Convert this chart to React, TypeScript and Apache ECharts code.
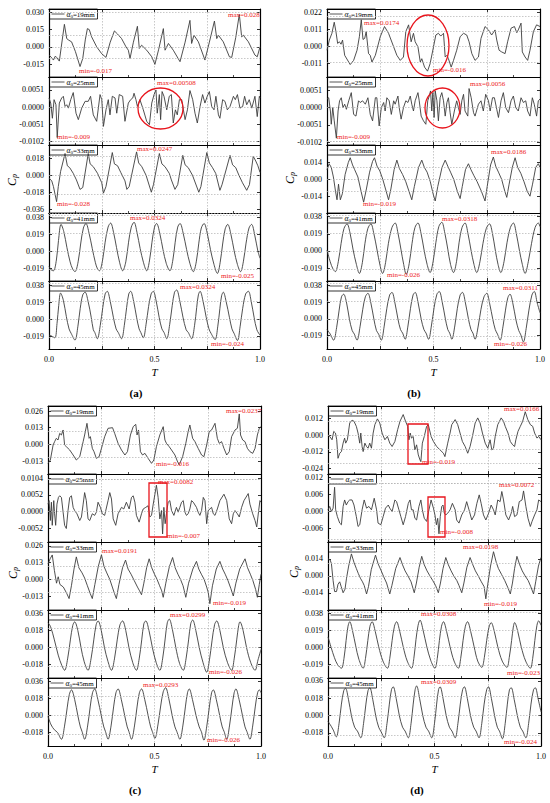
import { useEffect, useRef } from "react";
import * as echarts from "echarts";

type P = [number, number][];

// ---------- panel (a) ----------
const a19: P = [[0,-0.0071],[0.011,-0.009],[0.021,-0.0114],[0.03,-0.008],[0.036,-0.0091],[0.049,-0.0123],[0.062,0.005],[0.073,0.0194],[0.084,0.0071],[0.094,0.0057],[0.107,0.0043],[0.125,-0.004],[0.147,-0.017],[0.16,-0.01],[0.172,0.006],[0.182,0.0157],[0.191,0.0148],[0.202,0.0086],[0.226,0.0],[0.25,-0.006],[0.27,-0.0091],[0.29,0.004],[0.31,0.0137],[0.325,0.011],[0.344,0.0071],[0.365,0.0],[0.376,-0.0029],[0.384,-0.01],[0.4,0.004],[0.419,0.0177],[0.428,-0.0014],[0.439,0.0014],[0.463,-0.0029],[0.487,-0.0086],[0.502,-0.0151],[0.52,-0.002],[0.542,0.0157],[0.55,-0.0029],[0.566,0.0029],[0.589,-0.0029],[0.621,-0.0128],[0.645,0.004],[0.668,0.0228],[0.676,0.0029],[0.687,0.01],[0.708,0.0043],[0.739,-0.0114],[0.76,0.004],[0.784,0.0222],[0.795,0.0071],[0.803,0.01],[0.826,0.0043],[0.855,-0.0086],[0.866,-0.0091],[0.885,0.008],[0.902,0.028],[0.913,0.0086],[0.921,0.01],[0.945,0.0043],[0.976,-0.0071],[0.987,-0.0086],[1.0,0]];
const a25: P = [[0,0.0027],[0.008,0.0012],[0.016,-0.0033],[0.024,0.0022],[0.033,0.0007],[0.039,-0.009],[0.049,0.0012],[0.06,0.0027],[0.068,0.0032],[0.076,0.0002],[0.084,0.0007],[0.092,-0.0003],[0.103,0.0022],[0.115,0.0043],[0.128,-0.0018],[0.139,-0.0037],[0.155,-0.0003],[0.171,0.0017],[0.186,0.0017],[0.197,0.0032],[0.21,-0.0023],[0.226,-0.0042],[0.242,0.0037],[0.25,0.0022],[0.258,-0.0057],[0.27,-0.0008],[0.281,0.0022],[0.289,-0.0023],[0.3,0.0032],[0.313,0.0027],[0.321,-0.0018],[0.333,0.0037],[0.349,0.0032],[0.36,-0.0042],[0.376,0.0012],[0.387,0.0022],[0.397,0.0027],[0.403,0.0041],[0.412,0.0022],[0.419,0.0002],[0.431,0.0022],[0.447,-0.0008],[0.463,-0.0042],[0.476,-0.0052],[0.487,0.0012],[0.498,0.0037],[0.507,0.00508],[0.513,-0.0018],[0.523,0.0037],[0.529,-0.0037],[0.536,0.0046],[0.545,0.0032],[0.558,-0.0008],[0.57,0.0032],[0.58,0.0037],[0.589,-0.0047],[0.599,-0.0008],[0.608,-0.0023],[0.618,0.0022],[0.629,0.0022],[0.637,-0.0008],[0.645,-0.0037],[0.656,-0.0008],[0.668,0.0049],[0.681,0.0022],[0.692,-0.0018],[0.703,-0.0047],[0.716,0.0002],[0.728,0.0037],[0.739,0.0012],[0.75,0.0032],[0.76,0.0046],[0.771,0.0002],[0.782,-0.0008],[0.791,0.0032],[0.803,-0.0023],[0.81,-0.0033],[0.823,0.0022],[0.834,0.0017],[0.845,-0.0008],[0.858,0.0002],[0.874,0.0032],[0.883,0.0022],[0.893,0.0037],[0.905,-0.0003],[0.918,0.0002],[0.927,0.0032],[0.937,0.0007],[0.949,0.0022],[0.961,-0.0003],[0.976,0.0032],[0.987,-0.0028],[0.997,0.0032],[1.0,0.0027]];
const a33: P = [[0,-0.003],[0.013,-0.006],[0.021,-0.012],[0.036,-0.028],[0.044,-0.012],[0.055,0.004],[0.076,0.023],[0.087,0.01],[0.098,0.008],[0.115,0.002],[0.13,-0.005],[0.147,-0.015],[0.16,-0.013],[0.186,0.023],[0.195,0.012],[0.21,0.009],[0.23,0.002],[0.25,-0.008],[0.258,-0.019],[0.27,-0.012],[0.3,0.024],[0.31,0.012],[0.325,0.01],[0.34,0.003],[0.36,-0.006],[0.369,-0.015],[0.38,-0.012],[0.415,0.0247],[0.425,0.013],[0.44,0.009],[0.46,0.0],[0.485,-0.018],[0.495,-0.01],[0.523,0.023],[0.535,0.012],[0.55,0.009],[0.57,0.002],[0.58,-0.005],[0.597,-0.015],[0.61,-0.01],[0.634,0.021],[0.645,0.011],[0.66,0.008],[0.68,0.0],[0.71,-0.018],[0.72,-0.012],[0.748,0.024],[0.76,0.013],[0.775,0.008],[0.79,0.002],[0.81,-0.016],[0.82,-0.01],[0.858,0.021],[0.87,0.011],[0.885,0.008],[0.9,0.0],[0.917,-0.008],[0.937,-0.016],[0.95,-0.01],[0.968,0.02],[0.98,0.015],[0.99,0.01],[1.0,0.003]];
const a41: P = [[0,-0.017],[0.01,-0.021],[0.021,-0.022],[0.035,-0.01],[0.045,0.012],[0.057,0.03],[0.07,0.022],[0.085,0.004],[0.1,-0.012],[0.112,-0.02],[0.123,-0.023],[0.138,-0.012],[0.15,0.008],[0.163,0.026],[0.175,0.031],[0.19,0.02],[0.205,0.003],[0.22,-0.013],[0.23,-0.02],[0.239,-0.022],[0.254,-0.01],[0.266,0.01],[0.28,0.027],[0.292,0.0315],[0.306,0.021],[0.32,0.004],[0.335,-0.013],[0.349,-0.022],[0.364,-0.012],[0.377,0.01],[0.39,0.027],[0.403,0.0324],[0.417,0.021],[0.432,0.003],[0.448,-0.013],[0.463,-0.022],[0.476,-0.011],[0.488,0.01],[0.5,0.027],[0.51,0.031],[0.525,0.02],[0.54,0.002],[0.556,-0.014],[0.573,-0.022],[0.587,-0.01],[0.598,0.01],[0.61,0.027],[0.621,0.031],[0.636,0.02],[0.652,0.002],[0.668,-0.014],[0.684,-0.023],[0.698,-0.012],[0.71,0.009],[0.722,0.026],[0.735,0.031],[0.75,0.02],[0.765,0.002],[0.782,-0.015],[0.798,-0.025],[0.811,-0.013],[0.823,0.008],[0.835,0.025],[0.847,0.03],[0.862,0.019],[0.877,0.001],[0.893,-0.015],[0.908,-0.023],[0.921,-0.012],[0.934,0.009],[0.948,0.026],[0.96,0.03],[0.975,0.018],[0.99,0.0],[1.0,-0.008]];
const a45: P = [[0,-0.018],[0.012,-0.019],[0.028,-0.021],[0.038,-0.005],[0.046,0.015],[0.055,0.029],[0.068,0.021],[0.082,0.003],[0.095,-0.011],[0.105,-0.016],[0.123,-0.0235],[0.137,-0.008],[0.148,0.012],[0.16,0.027],[0.171,0.03],[0.185,0.02],[0.2,0.002],[0.21,-0.012],[0.217,-0.015],[0.229,-0.022],[0.243,-0.007],[0.255,0.013],[0.266,0.028],[0.276,0.031],[0.29,0.02],[0.305,0.002],[0.318,-0.011],[0.328,-0.015],[0.344,-0.022],[0.357,-0.007],[0.368,0.013],[0.378,0.028],[0.387,0.031],[0.401,0.02],[0.415,0.002],[0.427,-0.011],[0.435,-0.015],[0.447,-0.021],[0.46,-0.006],[0.472,0.014],[0.484,0.028],[0.494,0.031],[0.508,0.02],[0.522,0.002],[0.535,-0.011],[0.545,-0.015],[0.558,-0.022],[0.572,-0.006],[0.584,0.015],[0.595,0.03],[0.605,0.0324],[0.62,0.02],[0.635,0.002],[0.65,-0.012],[0.66,-0.015],[0.676,-0.022],[0.69,-0.007],[0.7,0.013],[0.708,0.027],[0.716,0.031],[0.73,0.02],[0.745,0.002],[0.758,-0.011],[0.768,-0.016],[0.787,-0.023],[0.8,-0.008],[0.81,0.012],[0.818,0.026],[0.826,0.03],[0.84,0.019],[0.855,0.002],[0.867,-0.011],[0.877,-0.016],[0.893,-0.024],[0.906,-0.008],[0.918,0.012],[0.932,0.028],[0.945,0.031],[0.958,0.02],[0.972,0.002],[0.985,-0.012],[1.0,-0.018]];

// ---------- panel (b) ----------
const b19: P = [[0,-0.0024],[0.011,0.0042],[0.023,0.0086],[0.034,0.0158],[0.042,0.0097],[0.05,0.002],[0.058,0.0031],[0.066,0.0015],[0.073,0.0042],[0.083,-0.0057],[0.102,-0.0101],[0.109,-0.0117],[0.125,-0.009],[0.141,-0.0024],[0.152,0.0064],[0.161,0.0174],[0.169,0.0046],[0.177,0.0053],[0.184,0.0097],[0.195,-0.0046],[0.203,-0.0057],[0.211,-0.0101],[0.227,-0.0057],[0.25,0.0064],[0.27,0.013],[0.289,0.0086],[0.313,-0.0002],[0.328,-0.0057],[0.344,-0.009],[0.359,-0.0068],[0.37,0.0097],[0.383,0.0141],[0.395,0.0031],[0.406,0.0086],[0.414,0.0031],[0.427,-0.0002],[0.438,-0.0101],[0.445,-0.0079],[0.458,-0.0134],[0.472,-0.016],[0.484,-0.0112],[0.5,-0.0002],[0.511,0.0075],[0.523,0.0086],[0.534,0.0068],[0.547,0.0086],[0.555,-0.0068],[0.563,-0.0057],[0.57,-0.0079],[0.583,-0.0134],[0.594,-0.009],[0.609,-0.0024],[0.625,0.0064],[0.641,0.0086],[0.656,0.0075],[0.667,0.0031],[0.68,-0.0046],[0.695,-0.009],[0.711,-0.0068],[0.723,0.0053],[0.742,0.013],[0.758,0.0108],[0.773,0.0075],[0.789,0.0108],[0.797,0.0042],[0.808,-0.0024],[0.82,-0.0035],[0.836,-0.0046],[0.848,0.0031],[0.864,0.0119],[0.88,0.013],[0.891,0.009],[0.898,0.0108],[0.911,0.0152],[0.917,-0.0035],[0.93,-0.0068],[0.942,-0.009],[0.953,-0.0024],[0.969,0.0097],[0.984,0.0141],[1.0,0.013]];
const b25: P = [[0,0.0025],[0.008,0.0029],[0.016,-0.001],[0.02,-0.0049],[0.027,0],[0.034,-0.0039],[0.044,-0.009],[0.052,-0.001],[0.059,0.002],[0.067,0.0029],[0.075,0],[0.083,0.001],[0.091,-0.0005],[0.102,0.002],[0.114,0.0044],[0.125,-0.002],[0.136,-0.0025],[0.148,0.002],[0.156,0.0015],[0.167,0.002],[0.18,0.001],[0.192,0.0029],[0.203,-0.002],[0.214,-0.0039],[0.227,0.0029],[0.234,0.0029],[0.245,-0.0054],[0.255,0],[0.266,0.0015],[0.273,-0.001],[0.281,0.0029],[0.292,0.002],[0.302,-0.002],[0.313,0.002],[0.32,0.001],[0.333,0.0034],[0.339,0],[0.348,-0.0034],[0.359,0],[0.37,0.002],[0.38,0.0015],[0.391,0.0034],[0.398,0.001],[0.406,-0.001],[0.414,0.002],[0.427,0.0044],[0.433,0.002],[0.442,-0.0025],[0.453,-0.0039],[0.464,-0.0049],[0.473,0.002],[0.48,0.0034],[0.486,0.0049],[0.492,-0.001],[0.497,0.0044],[0.503,-0.0029],[0.508,0.0049],[0.516,0.002],[0.523,-0.0039],[0.531,0.0029],[0.539,0.0044],[0.547,0.002],[0.555,-0.0025],[0.563,0.0015],[0.57,0.0029],[0.578,-0.0015],[0.586,-0.0049],[0.598,-0.001],[0.609,0.002],[0.617,0],[0.625,-0.002],[0.633,0.002],[0.641,0.0039],[0.648,-0.001],[0.661,-0.0025],[0.667,0.0056],[0.677,0.0029],[0.688,-0.0015],[0.695,-0.0025],[0.711,0.001],[0.723,0.002],[0.734,-0.001],[0.745,0.0039],[0.758,0.002],[0.766,-0.001],[0.777,0.0029],[0.786,0.0029],[0.797,-0.0005],[0.805,-0.0029],[0.817,0.002],[0.828,0.0044],[0.839,0],[0.852,-0.0015],[0.864,0.002],[0.875,0.0034],[0.886,0],[0.898,-0.001],[0.911,0.0029],[0.922,0.0015],[0.933,0.002],[0.942,-0.001],[0.953,-0.0025],[0.964,0.0029],[0.973,0.001],[0.984,-0.0025],[0.992,0.002],[1.0,0.0025]];
const b33: P = [[0,0.008],[0.01,0.013],[0.02,0.01],[0.03,0.002],[0.04,-0.01],[0.047,-0.017],[0.054,-0.004],[0.0625,-0.017],[0.072,-0.012],[0.085,0.004],[0.1,0.014],[0.109,0.018],[0.12,0.012],[0.13,0.008],[0.145,0.002],[0.16,-0.01],[0.172,-0.019],[0.185,-0.008],[0.2,0.006],[0.214,0.015],[0.223,0.018],[0.235,0.011],[0.248,0.007],[0.262,0.0],[0.278,-0.01],[0.289,-0.017],[0.3,-0.008],[0.315,0.008],[0.328,0.016],[0.34,0.009],[0.355,0.004],[0.37,-0.002],[0.385,-0.01],[0.398,-0.017],[0.41,-0.006],[0.43,0.01],[0.445,0.016],[0.457,0.01],[0.47,0.006],[0.485,-0.002],[0.498,-0.012],[0.508,-0.018],[0.52,-0.006],[0.54,0.01],[0.555,0.016],[0.567,0.011],[0.58,0.006],[0.595,0.0],[0.612,-0.01],[0.625,-0.016],[0.635,-0.006],[0.65,0.008],[0.664,0.013],[0.676,0.008],[0.69,0.003],[0.705,-0.002],[0.725,-0.01],[0.742,-0.018],[0.752,-0.006],[0.768,0.012],[0.781,0.0186],[0.792,0.011],[0.805,0.006],[0.82,0.0],[0.835,-0.01],[0.844,-0.015],[0.855,-0.004],[0.87,0.01],[0.883,0.018],[0.895,0.01],[0.91,0.005],[0.925,-0.002],[0.94,-0.01],[0.953,-0.014],[0.965,-0.004],[0.98,0.01],[0.992,0.013],[1.0,0.01]];
const b41: P = [[0,0.001],[0.015,-0.012],[0.028,-0.02],[0.039,-0.023],[0.053,-0.012],[0.066,0.008],[0.08,0.025],[0.094,0.03],[0.108,0.02],[0.122,0.002],[0.138,-0.015],[0.152,-0.025],[0.166,-0.013],[0.178,0.008],[0.192,0.025],[0.206,0.03],[0.22,0.019],[0.235,0.001],[0.249,-0.016],[0.261,-0.025],[0.275,-0.013],[0.288,0.008],[0.305,0.026],[0.32,0.031],[0.333,0.02],[0.347,0.002],[0.36,-0.015],[0.372,-0.026],[0.386,-0.014],[0.399,0.008],[0.413,0.026],[0.427,0.031],[0.441,0.02],[0.455,0.002],[0.47,-0.015],[0.484,-0.024],[0.498,-0.012],[0.511,0.009],[0.525,0.027],[0.539,0.0318],[0.553,0.02],[0.567,0.002],[0.58,-0.015],[0.594,-0.024],[0.608,-0.012],[0.62,0.009],[0.634,0.026],[0.648,0.031],[0.662,0.019],[0.676,0.001],[0.69,-0.015],[0.703,-0.024],[0.718,-0.012],[0.732,0.008],[0.748,0.025],[0.763,0.03],[0.777,0.019],[0.79,0.001],[0.803,-0.015],[0.816,-0.024],[0.831,-0.012],[0.845,0.009],[0.861,0.026],[0.875,0.031],[0.889,0.019],[0.903,0.001],[0.917,-0.015],[0.93,-0.025],[0.945,-0.012],[0.96,0.008],[0.977,0.026],[0.992,0.031],[1.0,0.027]];
const b45: P = [[0,-0.012],[0.015,-0.017],[0.031,-0.024],[0.045,-0.01],[0.057,0.01],[0.068,0.025],[0.078,0.028],[0.092,0.018],[0.105,0.0],[0.118,-0.013],[0.128,-0.017],[0.141,-0.024],[0.155,-0.009],[0.168,0.011],[0.18,0.025],[0.192,0.029],[0.206,0.018],[0.22,0.0],[0.232,-0.013],[0.242,-0.017],[0.255,-0.024],[0.268,-0.009],[0.281,0.012],[0.294,0.027],[0.305,0.03],[0.319,0.018],[0.333,0.0],[0.345,-0.012],[0.355,-0.016],[0.367,-0.023],[0.38,-0.008],[0.392,0.012],[0.404,0.027],[0.414,0.03],[0.428,0.018],[0.442,0.0],[0.455,-0.012],[0.465,-0.016],[0.477,-0.023],[0.49,-0.008],[0.503,0.013],[0.516,0.028],[0.527,0.031],[0.541,0.019],[0.555,0.001],[0.567,-0.012],[0.576,-0.016],[0.586,-0.023],[0.6,-0.008],[0.612,0.012],[0.625,0.027],[0.636,0.03],[0.65,0.018],[0.664,0.0],[0.676,-0.012],[0.685,-0.016],[0.695,-0.023],[0.71,-0.008],[0.723,0.011],[0.737,0.025],[0.75,0.029],[0.764,0.017],[0.778,0.0],[0.79,-0.012],[0.8,-0.017],[0.813,-0.024],[0.826,-0.009],[0.838,0.01],[0.849,0.024],[0.859,0.028],[0.873,0.017],[0.887,-0.001],[0.9,-0.013],[0.91,-0.018],[0.922,-0.026],[0.935,-0.011],[0.948,0.01],[0.962,0.027],[0.973,0.0311],[0.987,0.018],[1.0,0.007]];

// ---------- panel (c) ----------
const c19: P = [[0,-0.0148],[0.011,-0.0122],[0.024,-0.0005],[0.031,0.0021],[0.039,0.0047],[0.047,0.0034],[0.055,0.0086],[0.063,0.0073],[0.071,0.0112],[0.078,-0.0005],[0.086,-0.0018],[0.102,-0.0044],[0.118,-0.0083],[0.133,-0.0122],[0.149,-0.0096],[0.165,0.0021],[0.172,0.0073],[0.183,0.0164],[0.193,0.0047],[0.199,0.006],[0.208,-0.0031],[0.216,-0.0057],[0.227,-0.0109],[0.24,-0.0096],[0.251,-0.0031],[0.266,0.006],[0.282,0.0125],[0.303,0.013],[0.313,0.0086],[0.329,0.0008],[0.345,-0.0044],[0.361,-0.0083],[0.373,-0.0057],[0.387,0.0073],[0.4,0.0138],[0.412,0.0156],[0.418,0.0073],[0.425,0.0112],[0.434,-0.0057],[0.444,-0.0083],[0.455,-0.007],[0.47,-0.0109],[0.486,-0.0148],[0.497,-0.0122],[0.509,-0.0018],[0.525,0.0073],[0.541,0.0138],[0.549,0.0034],[0.556,0.0008],[0.569,-0.0018],[0.58,-0.0044],[0.596,-0.0083],[0.607,-0.013],[0.616,-0.016],[0.632,-0.0096],[0.647,0.0008],[0.658,0.0099],[0.666,0.0151],[0.679,0.0047],[0.69,0.0021],[0.705,-0.0031],[0.721,-0.0083],[0.732,-0.0096],[0.745,-0.0005],[0.757,0.0099],[0.768,0.0112],[0.784,0.0164],[0.795,0.0047],[0.804,0.0008],[0.815,0.0021],[0.826,-0.0031],[0.839,-0.0083],[0.851,-0.0057],[0.862,0.006],[0.878,0.0112],[0.889,0.0125],[0.898,0.0237],[0.904,0.0073],[0.914,0.0034],[0.925,0.0021],[0.936,-0.0031],[0.948,-0.0057],[0.961,-0.007],[0.972,-0.0031],[0.983,0.0073],[0.992,0.0125],[1.0,0.0138]];
const c25: P = [[0,0.0023],[0.005,0.0034],[0.011,-0.0028],[0.016,0.0029],[0.02,-0.0043],[0.027,0.0034],[0.031,-0.0007],[0.036,-0.0043],[0.042,0.0023],[0.049,0.0044],[0.055,0.0049],[0.063,0.0044],[0.071,-0.0002],[0.078,-0.0043],[0.086,-0.0053],[0.094,0.0003],[0.102,0.0044],[0.11,0.0049],[0.118,0.0013],[0.125,0.0003],[0.136,-0.0007],[0.149,-0.0028],[0.157,-0.0017],[0.165,0.0023],[0.172,0.0059],[0.18,0.0034],[0.188,-0.0023],[0.196,-0.0028],[0.208,-0.0007],[0.219,-0.0012],[0.227,-0.0002],[0.235,0.0029],[0.246,0.0013],[0.255,-0.0007],[0.266,-0.0012],[0.282,0.0034],[0.29,0.0059],[0.298,0.0039],[0.306,-0.0023],[0.318,-0.0043],[0.329,-0.0007],[0.337,0.0003],[0.345,0.0013],[0.356,0.0008],[0.368,0.0029],[0.381,0.0008],[0.392,0.0044],[0.4,0.0049],[0.408,0.0029],[0.415,-0.0012],[0.428,-0.0033],[0.439,-0.0007],[0.447,0.0008],[0.459,0.0013],[0.47,0.0018],[0.478,-0.0017],[0.486,-0.0012],[0.494,0.0023],[0.502,0.0054],[0.509,0.0082],[0.517,0.0044],[0.525,-0.0023],[0.533,0.0003],[0.538,-0.007],[0.544,0.0013],[0.55,-0.0038],[0.556,-0.0007],[0.564,0.0029],[0.572,0.0034],[0.58,0.0003],[0.591,-0.0012],[0.603,0.0013],[0.611,-0.0002],[0.619,0.0013],[0.627,0.0029],[0.635,0.0034],[0.643,-0.0002],[0.65,-0.0012],[0.658,-0.0007],[0.666,0.0008],[0.674,0.0034],[0.682,0.0029],[0.697,0.0013],[0.705,-0.0002],[0.713,-0.0012],[0.721,0.0003],[0.729,0.0044],[0.737,0.0034],[0.745,-0.0038],[0.752,0.0003],[0.768,0.0013],[0.776,-0.0007],[0.784,-0.0012],[0.795,0.0008],[0.807,0.0034],[0.826,0.0054],[0.839,0.0034],[0.851,-0.0023],[0.862,-0.0038],[0.87,-0.0007],[0.878,0.0003],[0.889,-0.0007],[0.898,-0.0017],[0.909,0.0013],[0.92,0.0034],[0.94,0.0056],[0.948,0.0023],[0.961,-0.0007],[0.972,-0.0028],[0.98,-0.0048],[0.989,0.0003],[0.995,0.0034],[1.0,0.0029]];
const c33: P = [[0,0.012],[0.01,0.016],[0.02,0.019],[0.03,0.007],[0.04,-0.003],[0.048,0.002],[0.056,-0.004],[0.072,-0.006],[0.088,-0.011],[0.099,-0.015],[0.11,-0.005],[0.122,0.008],[0.133,0.0175],[0.145,0.009],[0.16,0.005],[0.172,0.001],[0.185,-0.005],[0.198,-0.011],[0.208,-0.015],[0.22,-0.004],[0.236,0.01],[0.251,0.0191],[0.263,0.01],[0.276,0.005],[0.29,0.0],[0.302,-0.006],[0.312,-0.011],[0.321,-0.015],[0.333,-0.004],[0.35,0.009],[0.364,0.015],[0.376,0.008],[0.39,0.004],[0.405,-0.001],[0.42,-0.006],[0.43,-0.009],[0.439,-0.012],[0.45,-0.003],[0.463,0.009],[0.475,0.016],[0.487,0.009],[0.5,0.004],[0.512,0.0],[0.524,-0.005],[0.534,-0.009],[0.541,-0.014],[0.553,-0.003],[0.57,0.01],[0.585,0.017],[0.597,0.009],[0.61,0.004],[0.622,0.0],[0.634,-0.005],[0.64,-0.009],[0.647,-0.014],[0.66,-0.003],[0.68,0.008],[0.697,0.014],[0.708,0.008],[0.72,0.004],[0.733,0.0],[0.745,-0.006],[0.752,-0.01],[0.76,-0.019],[0.772,-0.005],[0.79,0.008],[0.807,0.014],[0.82,0.008],[0.832,0.004],[0.845,-0.001],[0.858,-0.007],[0.87,-0.013],[0.882,-0.003],[0.9,0.008],[0.925,0.016],[0.937,0.009],[0.95,0.004],[0.962,-0.001],[0.975,-0.008],[0.983,-0.014],[0.992,-0.004],[1.0,0.004]];
const c41: P = [[0,0.026],[0.012,0.022],[0.03,0.008],[0.048,-0.008],[0.065,-0.019],[0.078,-0.024],[0.092,-0.012],[0.105,0.008],[0.116,0.023],[0.125,0.027],[0.14,0.018],[0.155,0.0],[0.17,-0.015],[0.188,-0.024],[0.202,-0.012],[0.215,0.008],[0.226,0.024],[0.235,0.028],[0.25,0.018],[0.265,0.0],[0.282,-0.015],[0.298,-0.024],[0.312,-0.012],[0.325,0.008],[0.338,0.024],[0.35,0.028],[0.365,0.018],[0.38,0.0],[0.398,-0.016],[0.415,-0.024],[0.428,-0.012],[0.44,0.008],[0.45,0.025],[0.459,0.028],[0.474,0.018],[0.49,0.0],[0.508,-0.016],[0.525,-0.024],[0.538,-0.012],[0.55,0.009],[0.56,0.026],[0.569,0.0299],[0.584,0.019],[0.6,0.0],[0.618,-0.017],[0.635,-0.024],[0.648,-0.012],[0.66,0.008],[0.67,0.025],[0.679,0.029],[0.694,0.018],[0.71,0.0],[0.728,-0.016],[0.745,-0.026],[0.758,-0.013],[0.77,0.007],[0.782,0.024],[0.792,0.028],[0.807,0.018],[0.823,0.0],[0.843,-0.016],[0.862,-0.024],[0.874,-0.012],[0.886,0.008],[0.895,0.023],[0.901,0.027],[0.916,0.018],[0.932,0.0],[0.952,-0.016],[0.972,-0.024],[0.986,-0.013],[1.0,-0.002]];
const c45: P = [[0,-0.001],[0.015,-0.01],[0.03,-0.015],[0.045,-0.018],[0.063,-0.025],[0.077,-0.012],[0.09,0.008],[0.1,0.022],[0.11,0.027],[0.125,0.017],[0.14,0.0],[0.152,-0.012],[0.16,-0.017],[0.172,-0.025],[0.186,-0.011],[0.198,0.009],[0.209,0.024],[0.219,0.028],[0.234,0.017],[0.25,0.0],[0.262,-0.012],[0.27,-0.017],[0.282,-0.025],[0.296,-0.011],[0.308,0.009],[0.319,0.024],[0.329,0.028],[0.344,0.017],[0.36,0.0],[0.372,-0.012],[0.38,-0.017],[0.392,-0.025],[0.406,-0.011],[0.418,0.009],[0.429,0.024],[0.439,0.028],[0.454,0.017],[0.47,0.0],[0.482,-0.012],[0.49,-0.017],[0.502,-0.024],[0.516,-0.01],[0.529,0.01],[0.541,0.025],[0.552,0.0293],[0.567,0.018],[0.583,0.0],[0.596,-0.012],[0.605,-0.017],[0.619,-0.025],[0.633,-0.011],[0.645,0.009],[0.655,0.024],[0.663,0.028],[0.678,0.017],[0.695,0.0],[0.71,-0.012],[0.72,-0.017],[0.732,-0.026],[0.745,-0.012],[0.757,0.008],[0.768,0.024],[0.776,0.027],[0.79,0.017],[0.806,0.0],[0.818,-0.012],[0.827,-0.017],[0.839,-0.025],[0.852,-0.011],[0.864,0.009],[0.874,0.024],[0.882,0.028],[0.897,0.017],[0.913,0.0],[0.925,-0.012],[0.934,-0.017],[0.948,-0.025],[0.961,-0.011],[0.973,0.009],[0.984,0.024],[0.992,0.027],[1.0,0.024]];

// ---------- panel (d) ----------
const d19: P = [[0,0.0002],[0.008,-0.001],[0.019,-0.0034],[0.027,0.0026],[0.035,0.0014],[0.041,-0.0034],[0.047,-0.0166],[0.055,-0.013],[0.063,-0.0118],[0.071,-0.0058],[0.078,-0.0022],[0.083,-0.0058],[0.091,-0.0034],[0.102,0.0086],[0.113,0.0106],[0.122,0.0098],[0.133,0.0062],[0.141,0.0014],[0.149,-0.0058],[0.154,0.0014],[0.16,-0.0082],[0.165,-0.0118],[0.173,-0.0058],[0.181,-0.0082],[0.188,-0.0094],[0.196,-0.0058],[0.204,-0.0094],[0.212,0.0014],[0.22,0.0074],[0.232,0.0115],[0.243,0.0086],[0.254,0.0014],[0.267,-0.0034],[0.279,-0.001],[0.29,-0.0058],[0.301,-0.0082],[0.314,-0.0046],[0.327,0.0038],[0.338,0.0098],[0.353,0.0146],[0.364,0.0098],[0.374,0.0062],[0.38,-0.0034],[0.386,0.0014],[0.392,-0.0022],[0.4,-0.001],[0.408,-0.0106],[0.416,-0.007],[0.424,-0.0142],[0.432,-0.0178],[0.436,-0.019],[0.443,-0.0058],[0.452,-0.001],[0.463,0.0062],[0.471,0.0074],[0.484,-0.001],[0.495,-0.0046],[0.51,-0.0082],[0.526,-0.0106],[0.542,-0.013],[0.549,-0.0154],[0.562,-0.0058],[0.573,0.0014],[0.581,0.0074],[0.597,0.011],[0.609,0.0074],[0.62,0.0014],[0.631,-0.0046],[0.644,-0.0082],[0.656,-0.013],[0.667,-0.0082],[0.678,-0.001],[0.691,0.0086],[0.703,0.0122],[0.714,0.0086],[0.725,0.0014],[0.738,-0.0058],[0.75,-0.0094],[0.761,-0.0034],[0.769,-0.0106],[0.777,-0.0094],[0.785,-0.001],[0.797,0.0074],[0.813,0.0122],[0.824,0.0098],[0.832,0.0062],[0.845,0.0014],[0.856,-0.0046],[0.867,-0.007],[0.876,-0.0082],[0.882,-0.0034],[0.892,0.0026],[0.903,0.0062],[0.914,0.0098],[0.926,0.0166],[0.938,0.011],[0.95,0.0074],[0.961,0.0062],[0.97,0.0014],[0.981,-0.0022],[0.989,-0.001],[1.0,-0.0034]];
const d25: P = [[0,0.0005],[0.008,0.0017],[0.016,-0.0001],[0.024,0.0011],[0.031,0.0085],[0.036,0.0005],[0.044,-0.0019],[0.055,-0.0042],[0.063,-0.0048],[0.071,0.0017],[0.078,0.004],[0.086,0.0022],[0.094,0.0034],[0.102,0.004],[0.113,0.004],[0.122,0.0022],[0.133,-0.0019],[0.141,-0.0054],[0.149,-0.0048],[0.16,0.0005],[0.17,0.004],[0.181,0.0011],[0.192,0.0017],[0.204,0.0005],[0.217,0.0046],[0.228,0.0005],[0.235,-0.0042],[0.248,-0.0048],[0.259,-0.0019],[0.27,0.0011],[0.283,0.0022],[0.29,0.0011],[0.301,-0.0001],[0.314,0.004],[0.322,0.0034],[0.333,0.0005],[0.342,-0.0019],[0.353,-0.0048],[0.364,-0.0019],[0.377,0.0028],[0.385,0.004],[0.392,0.0005],[0.4,0.0005],[0.408,-0.0025],[0.416,-0.0031],[0.427,0.0017],[0.436,0.004],[0.443,0.0005],[0.452,-0.0025],[0.463,-0.0036],[0.474,0.0005],[0.484,0.004],[0.495,0.0011],[0.502,-0.0013],[0.509,-0.0048],[0.515,-0.0025],[0.521,-0.008],[0.527,-0.0019],[0.534,0.0017],[0.54,0.0022],[0.546,-0.0007],[0.553,-0.0013],[0.562,-0.0007],[0.573,0.0005],[0.584,0.0028],[0.597,0.0005],[0.604,-0.0031],[0.615,-0.0042],[0.628,-0.0013],[0.641,0.0005],[0.651,0.0034],[0.662,0.0005],[0.675,-0.0031],[0.688,-0.0013],[0.699,0.0028],[0.71,0.0058],[0.719,0.0028],[0.73,-0.0013],[0.741,-0.0031],[0.754,-0.0007],[0.766,0.0022],[0.777,0.0005],[0.785,-0.0013],[0.797,0.004],[0.808,0.0034],[0.816,0.007],[0.824,0.004],[0.835,-0.0013],[0.848,-0.0031],[0.86,-0.0007],[0.867,0.0017],[0.876,-0.0019],[0.887,-0.0013],[0.898,0.0034],[0.911,0.004],[0.918,0.0072],[0.929,0.0017],[0.939,-0.0025],[0.95,-0.0054],[0.958,-0.0036],[0.97,-0.0013],[0.981,0.0005],[0.989,0.004],[1.0,0.0034]];
const d33: P = [[0,0.014],[0.01,0.013],[0.016,0.01],[0.024,-0.004],[0.031,-0.013],[0.04,-0.013],[0.047,-0.007],[0.055,-0.005],[0.062,-0.009],[0.071,-0.014],[0.08,-0.011],[0.087,-0.002],[0.097,0.008],[0.11,0.018],[0.122,0.011],[0.133,0.006],[0.142,0.002],[0.152,-0.002],[0.162,-0.005],[0.17,-0.008],[0.181,-0.015],[0.19,-0.009],[0.203,0.005],[0.223,0.017],[0.235,0.01],[0.25,0.004],[0.262,-0.001],[0.275,-0.006],[0.29,-0.015],[0.3,-0.008],[0.318,0.006],[0.338,0.015],[0.35,0.009],[0.362,0.004],[0.375,0.0],[0.39,-0.005],[0.405,-0.014],[0.415,-0.006],[0.428,0.007],[0.44,0.016],[0.452,0.009],[0.465,0.004],[0.478,0.0],[0.492,-0.004],[0.505,-0.008],[0.518,-0.014],[0.528,-0.006],[0.54,0.006],[0.553,0.015],[0.565,0.009],[0.578,0.004],[0.59,0.0],[0.605,-0.004],[0.615,-0.008],[0.628,-0.014],[0.638,-0.006],[0.652,0.007],[0.667,0.015],[0.68,0.009],[0.692,0.004],[0.705,0.0],[0.72,-0.005],[0.733,-0.009],[0.741,-0.019],[0.75,-0.007],[0.763,0.008],[0.777,0.0198],[0.79,0.011],[0.8,0.006],[0.815,0.001],[0.83,-0.004],[0.845,-0.01],[0.856,-0.015],[0.866,-0.006],[0.876,0.006],[0.887,0.016],[0.9,0.009],[0.912,0.004],[0.925,0.0],[0.94,-0.004],[0.952,-0.009],[0.965,-0.015],[0.975,-0.005],[0.988,0.008],[1.0,0.015]];
const d41: P = [[0,0.012],[0.015,0.0],[0.03,-0.011],[0.045,-0.019],[0.063,-0.023],[0.075,-0.012],[0.085,0.008],[0.094,0.024],[0.102,0.029],[0.115,0.019],[0.13,0.002],[0.145,-0.013],[0.165,-0.023],[0.176,-0.012],[0.187,0.008],[0.197,0.024],[0.207,0.029],[0.222,0.018],[0.238,0.001],[0.258,-0.015],[0.279,-0.023],[0.29,-0.012],[0.301,0.008],[0.312,0.024],[0.322,0.029],[0.337,0.018],[0.353,0.001],[0.372,-0.015],[0.392,-0.023],[0.403,-0.012],[0.413,0.009],[0.423,0.025],[0.432,0.0308],[0.447,0.019],[0.463,0.002],[0.482,-0.014],[0.502,-0.023],[0.513,-0.012],[0.523,0.008],[0.533,0.024],[0.542,0.029],[0.557,0.018],[0.573,0.001],[0.592,-0.015],[0.612,-0.023],[0.623,-0.012],[0.634,0.008],[0.645,0.024],[0.655,0.029],[0.67,0.018],[0.686,0.001],[0.703,-0.015],[0.722,-0.022],[0.734,-0.011],[0.745,0.008],[0.756,0.023],[0.766,0.028],[0.781,0.018],[0.797,0.001],[0.818,-0.015],[0.84,-0.022],[0.851,-0.011],[0.862,0.008],[0.87,0.023],[0.876,0.028],[0.891,0.018],[0.907,0.001],[0.928,-0.015],[0.95,-0.023],[0.961,-0.012],[0.971,0.008],[0.981,0.025],[0.989,0.03],[1.0,0.025]];
const d45: P = [[0,-0.006],[0.015,-0.011],[0.025,-0.015],[0.039,-0.022],[0.052,-0.008],[0.063,0.012],[0.074,0.026],[0.082,0.0285],[0.096,0.017],[0.11,0.0],[0.125,-0.012],[0.138,-0.016],[0.154,-0.023],[0.167,-0.008],[0.178,0.012],[0.188,0.026],[0.196,0.029],[0.21,0.017],[0.224,0.0],[0.238,-0.012],[0.25,-0.017],[0.264,-0.023],[0.277,-0.008],[0.288,0.012],[0.298,0.027],[0.306,0.03],[0.32,0.018],[0.335,0.0],[0.35,-0.012],[0.362,-0.016],[0.377,-0.023],[0.39,-0.008],[0.4,0.012],[0.409,0.027],[0.416,0.0309],[0.43,0.018],[0.445,0.0],[0.46,-0.012],[0.472,-0.016],[0.487,-0.023],[0.5,-0.008],[0.51,0.012],[0.519,0.027],[0.526,0.03],[0.54,0.018],[0.555,0.0],[0.57,-0.012],[0.582,-0.016],[0.597,-0.023],[0.61,-0.008],[0.621,0.012],[0.632,0.027],[0.64,0.03],[0.654,0.018],[0.669,0.0],[0.684,-0.012],[0.695,-0.016],[0.709,-0.023],[0.722,-0.008],[0.733,0.012],[0.745,0.027],[0.753,0.03],[0.767,0.018],[0.782,0.0],[0.795,-0.012],[0.805,-0.016],[0.819,-0.024],[0.832,-0.008],[0.842,0.012],[0.852,0.027],[0.86,0.029],[0.874,0.017],[0.889,0.0],[0.903,-0.012],[0.914,-0.016],[0.929,-0.023],[0.942,-0.008],[0.953,0.012],[0.965,0.027],[0.973,0.029],[0.987,0.017],[1.0,0.004]];

// ---------- axes: tick values, ranges, decimals ----------
const radii = ["19", "25", "33", "41", "45"];
const xTickLabels: Record<string, string> = { "0": "0.0", "0.5": "0.5", "1": "1.0" };

const aTicks = [[-0.015, 0, 0.015, 0.03], [-0.0102, -0.0051, 0, 0.0051], [-0.036, -0.018, 0, 0.018], [-0.019, 0, 0.019, 0.038], [-0.019, 0, 0.019, 0.038]];
const bTicks = [[-0.011, 0, 0.011, 0.022], [-0.0102, -0.0051, 0, 0.0051], [-0.014, 0, 0.014], [-0.019, 0, 0.019, 0.038], [-0.019, 0, 0.019, 0.038]];
const cTicks = [[-0.013, 0, 0.013, 0.026], [-0.0052, 0, 0.0052, 0.0104], [-0.013, 0, 0.013, 0.026], [-0.018, 0, 0.018, 0.036], [-0.018, 0, 0.018, 0.036]];
const dTicks = [[-0.024, -0.012, 0, 0.012], [-0.006, 0, 0.006, 0.012], [-0.014, 0, 0.014], [-0.019, 0, 0.019, 0.038], [-0.018, 0, 0.018, 0.036]];

const aRanges = [[-0.026, 0.0326], [-0.0112, 0.0089], [-0.04, 0.032], [-0.0335, 0.0428], [-0.0335, 0.0425]];
const bRanges = [[-0.0198, 0.0244], [-0.011, 0.009], [-0.028, 0.0286], [-0.0334, 0.0421], [-0.034, 0.0429]];
const cRanges = [[-0.0231, 0.0299], [-0.0095, 0.0117], [-0.0239, 0.0291], [-0.0321, 0.0395], [-0.0321, 0.0395]];
const dRanges = [[-0.0278, 0.0207], [-0.0109, 0.0132], [-0.0282, 0.0278], [-0.0339, 0.0421], [-0.0315, 0.0391]];

const aDec = [3, 4, 3, 3, 3];
const bDec = [3, 4, 3, 3, 3];
const cDec = [3, 4, 3, 3, 3];
const dDec = [3, 3, 3, 3, 3];

// ---------- annotation texts ----------
const aMax = ["0.028", "0.00508", "0.0247", "0.0324", "0.0324"];
const aMin = ["-0.017", "-0.009", "-0.028", "-0.025", "-0.024"];
const bMax = ["0.0174", "0.0056", "0.0186", "0.0318", "0.0311"];
const bMin = ["-0.016", "-0.009", "-0.019", "-0.026", "-0.026"];
const cMax = ["0.0237", "0.0082", "0.0191", "0.0299", "0.0293"];
const cMin = ["-0.016", "-0.007", "-0.019", "-0.026", "-0.026"];
const dMax = ["0.0166", "0.0072", "0.0198", "0.0308", "0.0309"];
const dMin = ["-0.019", "-0.008", "-0.019", "-0.023", "-0.024"];

// ---------- layout ----------
const SUB_H = 68;
const layout = [
  { name: "(a)", left: 49, width: 211, top: 9, yTitle: [12, 180], labelX: 136 },
  { name: "(b)", left: 327, width: 213, top: 9, yTitle: [290, 178], labelX: 414 },
  { name: "(c)", left: 48, width: 213, top: 406, yTitle: [13, 573], labelX: 135 },
  { name: "(d)", left: 328, width: 213, top: 406, yTitle: [294, 572], labelX: 417 },
];
const maxPos = [
  [[228, 15], [157, 83], [137, 149], [130, 218], [180, 287]],
  [[364, 23], [470, 84], [491, 152], [442, 219], [503, 288]],
  [[226, 411], [158, 482], [102, 551], [170, 615], [143, 685]],
  [[504, 409], [499, 485], [463, 547], [421, 614], [421, 682]],
];
const minPos = [
  [[79, 71], [57, 137], [57, 204], [221, 276], [211, 344]],
  [[433, 70], [337, 137], [363, 204], [387, 275], [494, 344]],
  [[156, 464], [167, 536], [213, 603], [209, 672], [207, 740]],
  [[422, 462], [440, 532], [484, 604], [507, 673], [504, 742]],
];
const ellipses = [
  { cx: 160.5, cy: 108.5, rx: 22.5, ry: 20.5 },
  { cx: 428, cy: 45.5, rx: 21, ry: 30.5 },
  { cx: 442.5, cy: 108, rx: 17.5, ry: 20 },
];
const boxes = [
  { x: 149, y: 483, w: 18, h: 54 },
  { x: 408, y: 424, w: 20, h: 40 },
  { x: 428, y: 497, w: 17, h: 40 },
];

const panelSeries = [[a19, a25, a33, a41, a45], [b19, b25, b33, b41, b45], [c19, c25, c33, c41, c45], [d19, d25, d33, d41, d45]];
const panelTicks = [aTicks, bTicks, cTicks, dTicks];
const panelRanges = [aRanges, bRanges, cRanges, dRanges];
const panelDec = [aDec, bDec, cDec, dDec];
const panelMax = [aMax, bMax, cMax, dMax];
const panelMin = [aMin, bMin, cMin, dMin];

const FONT = "'Liberation Serif', 'Times New Roman', serif";
const RED = "#ee1c1c";

function buildOption() {
  const grid: any[] = [];
  const xAxis: any[] = [];
  const yAxis: any[] = [];
  const xMirror: any[] = [];
  const yMirror: any[] = [];
  const series: any[] = [];
  const graphic: any[] = [];
  const tickStyle = { color: "#000", width: 0.8 };
  const axisLine = { show: true, onZero: false, lineStyle: { color: "#000", width: 1.2 } };

  layout.forEach((L, p) => {
    for (let i = 0; i < 5; i++) {
      const k = p * 5 + i;
      const top = L.top + i * SUB_H;
      grid.push({ left: L.left, top, width: L.width, height: SUB_H, containLabel: false });
      const isBottom = i === 4;
      xAxis.push({
        type: "value", gridIndex: k, min: 0, max: 1, interval: 0.25, position: "bottom",
        axisLine,
        axisTick: { show: true, inside: true, length: 3, lineStyle: tickStyle },
        minorTick: { show: true, splitNumber: 2, length: 2, lineStyle: { color: "#000", width: 0.7 } },
        axisLabel: {
          show: isBottom, margin: 6, fontSize: 8, color: "#000", fontFamily: FONT,
          formatter: (v: number) => xTickLabels[String(v)] ?? "",
        },
        splitLine: { show: true, lineStyle: { color: "#b0b0b0", type: [1.5, 1.5], width: 0.7 } },
      });
      const ticks = panelTicks[p][i];
      const [mn, mx] = panelRanges[p][i];
      const dec = panelDec[p][i];
      yAxis.push({
        type: "value", gridIndex: k, min: mn, max: mx, position: "left",
        axisLine,
        axisTick: { show: true, inside: true, length: 3, customValues: ticks, lineStyle: tickStyle },
        axisLabel: {
          show: true, customValues: ticks, margin: 5, fontSize: 8, color: "#000", fontFamily: FONT,
          formatter: (v: number) => (Math.abs(v) < 1e-12 ? 0 : v).toFixed(dec),
        },
        splitLine: { show: false },
      });
      yMirror.push({
        type: "value", gridIndex: k, min: mn, max: mx, position: "right",
        axisLine,
        axisTick: { show: true, inside: true, length: 3, customValues: ticks, lineStyle: tickStyle },
        axisLabel: { show: false, customValues: ticks },
        splitLine: { show: false },
      });
      xMirror.push({
        type: "value", gridIndex: k, min: 0, max: 1, interval: 0.25, position: "top",
        axisLine,
        axisTick: { show: true, inside: true, length: 3, lineStyle: tickStyle },
        axisLabel: { show: false },
        splitLine: { show: false },
      });
      series.push({
        type: "line", xAxisIndex: k, yAxisIndex: k, data: panelSeries[p][i],
        showSymbol: false, symbol: "none", smooth: i >= 3 ? 0.35 : false,
        lineStyle: { color: "#3c3c3c", width: 0.9 }, clip: true, silent: true,
        markLine: {
          silent: true, symbol: "none", label: { show: false },
          lineStyle: { color: "#b0b0b0", type: [1.5, 1.5], width: 0.7 },
          data: ticks.map((t) => ({ yAxis: t })),
        },
      });

      // legend box
      graphic.push({
        type: "group", x: L.left + 0.5, y: top, z: 100,
        children: [
          { type: "rect", shape: { x: 0, y: 0, width: 48, height: 10 }, style: { fill: "#fff", stroke: "#000", lineWidth: 0.8 } },
          { type: "line", shape: { x1: 2, y1: 5, x2: 15, y2: 5 }, style: { stroke: "#444", lineWidth: 0.9 } },
          {
            type: "text", x: 17, y: 5.5,
            style: {
              text: `{i|α}{s|0}{n|=${radii[i]}mm}`,
              verticalAlign: "middle", fill: "#000",
              rich: {
                i: { fontFamily: FONT, fontSize: 7.5, fontStyle: "italic", fill: "#000" },
                s: { fontFamily: FONT, fontSize: 5, fill: "#000", padding: [4, 0, 0, 0] },
                n: { fontFamily: FONT, fontSize: 7, fill: "#000" },
              },
            },
          },
        ],
      });
      // annotations
      const mp = maxPos[p][i];
      const np = minPos[p][i];
      graphic.push({
        type: "text", x: mp[0], y: mp[1], z: 101,
        style: { text: "max=" + panelMax[p][i], fill: RED, fontSize: 7, fontFamily: FONT, verticalAlign: "middle" },
      });
      graphic.push({
        type: "text", x: np[0], y: np[1], z: 101,
        style: { text: "min=" + panelMin[p][i], fill: RED, fontSize: 7, fontFamily: FONT, verticalAlign: "middle" },
      });
    }

    // titles
    graphic.push({
      type: "text", x: L.yTitle[0], y: L.yTitle[1], rotation: Math.PI / 2, z: 101,
      style: {
        text: "{c|C}{p|p}", align: "center", verticalAlign: "middle",
        rich: {
          c: { fontFamily: FONT, fontSize: 12, fontStyle: "italic", fill: "#000" },
          p: { fontFamily: FONT, fontSize: 8, fontStyle: "italic", fill: "#000", padding: [5, 0, 0, 0] },
        },
      },
    });
    const bottom = L.top + 5 * SUB_H;
    graphic.push({
      type: "text", x: L.left + L.width / 2, y: bottom + 23, z: 101,
      style: { text: "T", fontFamily: FONT, fontSize: 11, fontStyle: "italic", fill: "#000", align: "center", verticalAlign: "middle" },
    });
    graphic.push({
      type: "text", x: L.labelX, y: bottom + 44, z: 101,
      style: { text: L.name, fontFamily: FONT, fontSize: 11, fontWeight: "bold", fill: "#000", align: "center", verticalAlign: "middle" },
    });
  });

  ellipses.forEach((e) => {
    graphic.push({ type: "ellipse", z: 102, shape: { cx: e.cx, cy: e.cy, rx: e.rx, ry: e.ry }, style: { fill: "none", stroke: "#e8141c", lineWidth: 1.3 } });
  });
  boxes.forEach((b) => {
    graphic.push({ type: "rect", z: 102, shape: { x: b.x, y: b.y, width: b.w, height: b.h }, style: { fill: "none", stroke: "#e8141c", lineWidth: 1.3 } });
  });

  return {
    animation: false, backgroundColor: "#fff", grid,
    xAxis: [...xAxis, ...xMirror], yAxis: [...yAxis, ...yMirror],
    series, graphic,
  };
}

export default function App() {
  const ref = useRef<HTMLDivElement>(null);
  useEffect(() => {
    if (!ref.current) return;
    const chart = echarts.init(ref.current, undefined, { renderer: "svg" });
    chart.setOption(buildOption() as any);
    return () => chart.dispose();
  }, []);
  return <div ref={ref} style={{ position: "fixed", left: 0, top: 0, width: 550, height: 803, background: "#fff" }} />;
}
